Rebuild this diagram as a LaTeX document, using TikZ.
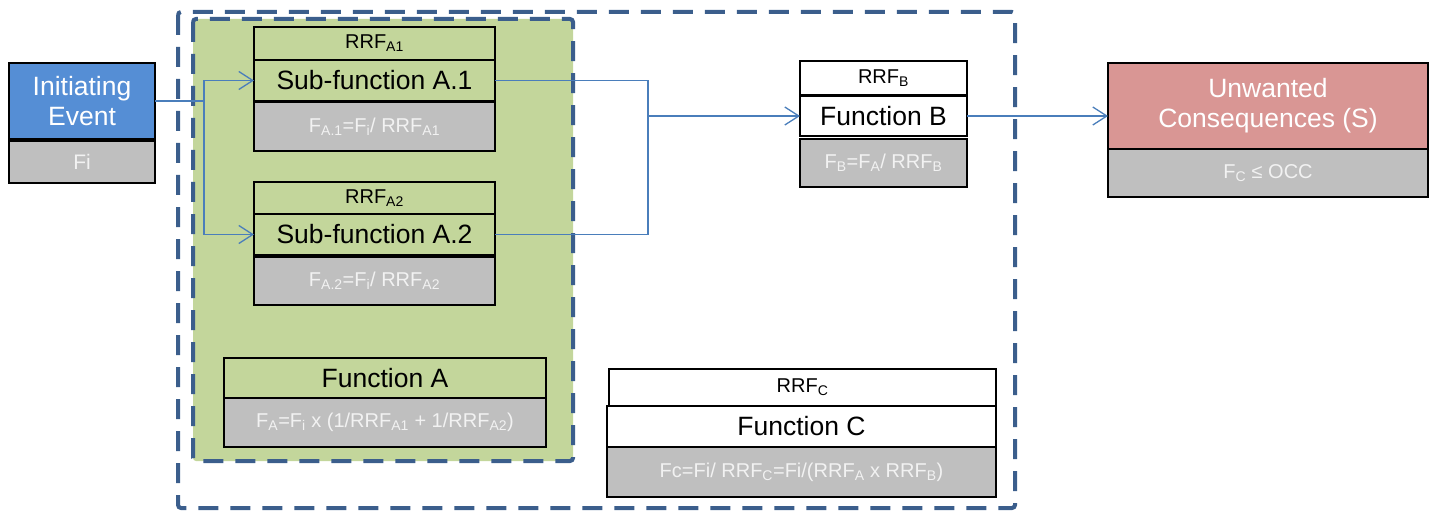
\documentclass[tikz,border=0pt]{standalone}
\usepackage{fontspec}
\setmainfont{Liberation Sans}
\usetikzlibrary{arrows.meta}

\definecolor{eventblue}{RGB}{85,142,213}
\definecolor{conred}{RGB}{217,150,148}
\definecolor{areagreen}{RGB}{195,214,155}
\definecolor{boxgray}{RGB}{191,191,191}
\definecolor{dashblue}{RGB}{59,94,140}
\definecolor{linkblue}{RGB}{74,126,187}
\definecolor{palegray}{RGB}{242,242,242}

\begin{document}
\begin{tikzpicture}[x=1pt, y=-1pt,
  box/.style={draw=black, line width=1.2pt, inner sep=0pt, outer sep=0pt, align=center},
  big/.style={box, font=\fontsize{26.5}{30}\selectfont},
  small/.style={box, font=\fontsize{20}{22}\selectfont},
  formula/.style={box, fill=boxgray, text=palegray, font=\fontsize{20}{22}\selectfont},
  group/.style={draw=dashblue, line width=4pt, dash pattern=on 20pt off 12pt, rounded corners=3pt},
  link/.style={draw=linkblue, line width=1.3pt},
  arrow/.style={link, -{Straight Barb[length=14pt, width=18pt, line width=1.3pt]}}]

\useasboundingbox (0, 0) rectangle (1434, 513);

% draw dashed group frames
\draw[group] (178, 12) rectangle (1015, 508);
\filldraw[group, fill=areagreen] (193, 19) rectangle (573, 461);

% draw initiating event
\node[big, fill=eventblue, text=white, minimum width=146, minimum height=76] (ievent) at (82, 101) {Initiating\\Event};
\node[formula, minimum width=146, minimum height=42, font=\fontsize{21}{22}\selectfont] (fi) at (82, 162) {Fi};

% draw sub-functions
\node[small, fill=areagreen, minimum width=241, minimum height=33] (rrfaone) at (374.5, 43.5) {RRF\textsubscript{A1}};
\node[big, fill=areagreen, minimum width=241, minimum height=41] (subaone) at (374.5, 80.5) {Sub-function A.1};
\node[formula, minimum width=241, minimum height=49] (faone) at (374.5, 126.5) {F\textsubscript{A.1}=F\textsubscript{i}/ RRF\textsubscript{A1}};

\node[small, fill=areagreen, minimum width=241, minimum height=32] (rrfatwo) at (374.5, 198) {RRF\textsubscript{A2}};
\node[big, fill=areagreen, minimum width=241, minimum height=41] (subatwo) at (374.5, 234.5) {Sub-function A.2};
\node[formula, minimum width=241, minimum height=48] (fatwo) at (374.5, 281) {F\textsubscript{A.2}=F\textsubscript{i}/ RRF\textsubscript{A2}};

% draw function A
\node[big, fill=areagreen, minimum width=322, minimum height=40] (funca) at (385, 378) {Function A};
\node[formula, minimum width=322, minimum height=49] (fa) at (385, 422.5) {F\textsubscript{A}=F\textsubscript{i} x (1/RRF\textsubscript{A1} + 1/RRF\textsubscript{A2})};

% draw function B
\node[small, fill=white, minimum width=167, minimum height=34] (rrfb) at (883.5, 78) {RRF\textsubscript{B}};
\node[big, fill=white, minimum width=167, minimum height=40] (funcb) at (883.5, 116) {Function B};
\node[formula, minimum width=167, minimum height=48] (fb) at (883.5, 163) {F\textsubscript{B}=F\textsubscript{A}/ RRF\textsubscript{B}};

% draw function C
\node[small, fill=white, minimum width=387, minimum height=37] (rrfc) at (802.5, 387.5) {RRF\textsubscript{C}};
\node[big, fill=white, minimum width=389, minimum height=41] (funcc) at (801.5, 426.5) {Function C};
\node[formula, minimum width=389, minimum height=50] (fc) at (801.5, 472) {Fc=Fi/ RRF\textsubscript{C}=Fi/(RRF\textsubscript{A} x RRF\textsubscript{B})};

% draw consequences
\node[big, fill=conred, text=white, minimum width=320, minimum height=86] (unwanted) at (1268, 106) {Unwanted\\Consequences (S)};
\node[formula, minimum width=320, minimum height=48] (occ) at (1268, 173) {F\textsubscript{C} ≤ OCC};

% draw connectors
\coordinate (split) at (204, 101);
\coordinate (merge) at (648, 116);
\draw[link] (ievent.east) -- (split);
\draw[arrow] (split) |- (subaone.west);
\draw[arrow] (split) |- (subatwo.west);
\draw[link] (subaone.east) -| (merge);
\draw[link] (subatwo.east) -| (merge);
\draw[arrow] (merge) -- (funcb.west);
\draw[arrow] (funcb.east) -- (funcb.east -| unwanted.west);

\end{tikzpicture}
\end{document}
